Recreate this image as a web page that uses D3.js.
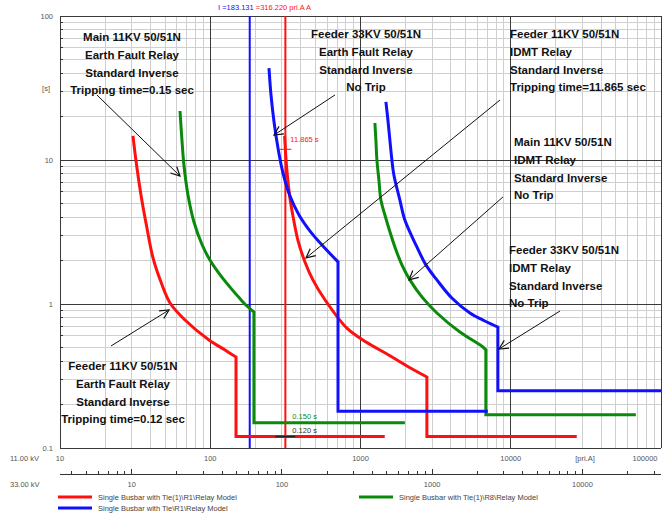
<!DOCTYPE html>
<html><head><meta charset="utf-8">
<script src="https://cdn.jsdelivr.net/npm/d3@7/dist/d3.min.js"></script>
<style>body{margin:0;background:#fff}svg{display:block}</style>
</head><body><svg id="c" width="667" height="518"></svg>
<script>
// ---- data ----
const xTicks11 = [10, 100, 1000, 10000, 100000];
const xTickLabels11 = ["10", "100", "1000", "10000", "100000"];
const xTicks33 = [10, 100, 1000, 10000];
const xTickLabels33 = ["10", "100", "1000", "10000"];
const yTicks = [0.1, 1, 10, 100];
const yTickLabels = ["0.1", "1", "10", "100"];
const legendNames = ["Single Busbar with Tie(1)\\R1\\Relay Model", "Single Busbar with Tie\\R1\\Relay Model", "Single Busbar with Tie(1)\\R8\\Relay Model"];

// Feeder 11KV EF (red, left)
const redLeftCurve = [[30.6,14.7],[32.0,10.0],[34.6,5.71],[37.9,3.37],[41.6,2.09],[47.0,1.42],[54.0,1.016],[67.9,0.774],[98.1,0.562],[125.4,0.479],[148.4,0.428]];
const redLeftStep = [[148.4,0.428],[148.4,0.12],[1450,0.12]];
// Main 11KV EF (green, left)
const greenLeftCurve = [[62.9,21.9],[64.8,13.8],[66.8,9.23],[71.1,5.71],[77.9,3.71],[88,2.6],[99.5,2.02],[116,1.6],[135.3,1.31],[157.6,1.09],[175.4,0.968],[195.3,0.88]];
const greenLeftStep = [[195.3,0.88],[195.3,0.15],[1975,0.15]];
// Feeder 33KV EF (blue, middle)
const blueMidCurve = [[246,43.5],[253.7,28.3],[265.7,18.4],[282.4,12.1],[304.9,8.12],[339.5,5.62],[389.6,4.15],[461.3,3.21],[554.3,2.57],[708.4,1.96]];
const blueMidStep = [[708.4,1.96],[708.4,0.18],[7040,0.18]];
// Feeder 11KV IDMT (red, middle)
const redMidCurve = [[312.6,14.7],[316.2,11.87],[322,9.0],[339,5.45],[352,4.3],[383,2.78],[427,1.96],[482,1.47],[580,1.07],[812,0.68],[1103,0.54],[1499,0.45],[2036,0.371],[2766,0.311]];
const redMidStep = [[2766,0.311],[2766,0.12],[27500,0.12]];
// Main 11KV IDMT (green, right)
const greenRightCurve = [[1247,18.07],[1266,13.76],[1286,10.0],[1326,7.26],[1367,5.27],[1453,4.15],[1694,2.49],[1886,1.87],[2132,1.47],[2562,1.12],[3224,0.866],[4585,0.639],[6523,0.503],[6829,0.479]];
const greenRightStep = [[6829,0.479],[6829,0.17],[68000,0.17]];
// Feeder 33KV IDMT (blue, right)
const blueRightCurve = [[1476,25.3],[1522,18.96],[1618,10.0],[1668,7.87],[1829,5.27],[1974,3.83],[2373,2.49],[2724,1.87],[3224,1.47],[4056,1.10],[5346,0.866],[6725,0.762],[8210,0.692]];
const blueRightStep = [[8210,0.692],[8210,0.25],[100000,0.25]];

const cursorBlue = 183.131;
const cursorRed = 316.22;
const markRedTime = 11.865;
const markGreenTime = 0.150;
const markRedLowTime = 0.120;

// annotation arrows: [start, tip] in (A, s)
const arrows = [
  [[17.6,28.3],[62.9,7.74]],
  [[676.6,28.3],[265.7,14.9]],
  [[8482,26.1],[434,2.09]],
  [[8880,5.54],[2103,1.47]],
  [[21280,0.894],[8352,0.487]],
  [[21.85,0.511],[53.2,0.909]]
];
const notes = [
  {x:132, y:37, anchor:"middle", lines:["Main 11KV 50/51N","Earth Fault Relay","Standard Inverse","Tripping time=0.15 sec"]},
  {x:366, y:34, anchor:"middle", lines:["Feeder 33KV 50/51N","Earth Fault Relay","Standard Inverse","No Trip"]},
  {x:510, y:34, anchor:"start", lines:["Feeder 11KV 50/51N","IDMT Relay","Standard Inverse","Tripping time=11.865 sec"]},
  {x:514, y:142, anchor:"start", lines:["Main 11KV 50/51N","IDMT Relay","Standard Inverse","No Trip"]},
  {x:509, y:250, anchor:"start", lines:["Feeder 33KV 50/51N","IDMT Relay","Standard Inverse","No Trip"]},
  {x:123, y:366, anchor:"middle", lines:["Feeder 11KV 50/51N","Earth Fault Relay","Standard Inverse","Tripping time=0.12 sec"]}
];

// ---- drawing ----
const svg = d3.select("#c");
const L = 60, R = 661, T = 16, B = 448;
const x = d3.scaleLog().domain([10, 100000]).range([L, R]);
const y = d3.scaleLog().domain([0.1, 100]).range([B, T]);
const x33 = d3.scaleLog().domain([10/3, 100000/3]).range([L, R]);

const RED = "#ff1010", BLUE = "#1010ff", GREEN = "#0a8a0a";
const gray = "#555";

svg.append("rect").attr("width",667).attr("height",518).attr("fill","#fff");

// grid
const g = svg.append("g");
const minorX = [], minorY = [];
[10,100,1000,10000].forEach(d => { for (let k=2;k<=9;k++) minorX.push(k*d); });
[0.1,1,10].forEach(d => { for (let k=2;k<=9;k++) minorY.push(k*d); });
g.selectAll(".mx").data(minorX).join("line")
  .attr("x1",d=>x(d)).attr("x2",d=>x(d)).attr("y1",T).attr("y2",B)
  .attr("stroke","#cfcfcf").attr("stroke-width",1).attr("shape-rendering","crispEdges");
g.selectAll(".my").data(minorY).join("line")
  .attr("y1",d=>y(d)).attr("y2",d=>y(d)).attr("x1",L).attr("x2",R)
  .attr("stroke","#cfcfcf").attr("stroke-width",1).attr("shape-rendering","crispEdges");
g.selectAll(".Mx").data(xTicks11).join("line")
  .attr("x1",d=>x(d)).attr("x2",d=>x(d)).attr("y1",T).attr("y2",B)
  .attr("stroke","#3a3a3a").attr("stroke-width",1).attr("shape-rendering","crispEdges");
g.selectAll(".My").data(yTicks).join("line")
  .attr("y1",d=>y(d)).attr("y2",d=>y(d)).attr("x1",L).attr("x2",R)
  .attr("stroke","#3a3a3a").attr("stroke-width",1).attr("shape-rendering","crispEdges");
g.selectAll(".ty").data(minorY).join("line")
  .attr("y1",d=>y(d)).attr("y2",d=>y(d)).attr("x1",L).attr("x2",L+3)
  .attr("stroke","#333").attr("shape-rendering","crispEdges");

// axis labels
const lab = svg.append("g").attr("font-family","Liberation Sans, Arial, sans-serif").attr("font-size",7.5).attr("fill",gray);
lab.selectAll(".yl").data(yTicks).join("text")
  .attr("x",L-7).attr("y",d=>y(d)).attr("dy","0.35em").attr("text-anchor","end").text((d,i)=>yTickLabels[i]);
lab.append("text").attr("x",L-10).attr("y",88).attr("dy","0.35em").attr("text-anchor","end").text("[s]");
lab.selectAll(".xl").data(xTicks11).join("text")
  .attr("x",d=>Math.min(x(d), 645)).attr("y",B+10).attr("dy","0.35em").attr("text-anchor","middle").text((d,i)=>xTickLabels11[i]);
lab.append("text").attr("x",585).attr("y",B+10).attr("dy","0.35em").attr("text-anchor","middle").text("[pri.A]");
lab.append("text").attr("x",10).attr("y",B+10).attr("dy","0.35em").text("11.00 kV");
lab.append("text").attr("x",10).attr("y",484).attr("dy","0.35em").text("33.00 kV");

// 33 kV axis
const ax33 = 474;
svg.append("line").attr("x1",L).attr("x2",R).attr("y1",ax33).attr("y2",ax33).attr("stroke","#333").attr("shape-rendering","crispEdges");
const t33 = [];
[1,10,100,1000,10000].forEach(d => { for (let k=1;k<=9;k++) { const v=k*d; if (x33(v)>=L && x33(v)<=R) t33.push(v); } });
svg.selectAll(".t33").data(t33).join("line")
  .attr("x1",d=>x33(d)).attr("x2",d=>x33(d)).attr("y1",ax33)
  .attr("y2",d=> xTicks33.includes(d) ? ax33-5 : ax33-3)
  .attr("stroke","#333").attr("shape-rendering","crispEdges");
lab.selectAll(".x3").data(xTicks33).join("text")
  .attr("x",d=>x33(d)).attr("y",484).attr("dy","0.35em").attr("text-anchor","middle").text((d,i)=>xTickLabels33[i]);

// clip
svg.append("clipPath").attr("id","pc").append("rect").attr("x",L).attr("y",T-1).attr("width",R-L+2).attr("height",B-T+2);
const plot = svg.append("g").attr("clip-path","url(#pc)");

// cursor lines
plot.append("line").attr("x1",x(cursorBlue)).attr("x2",x(cursorBlue)).attr("y1",T).attr("y2",B).attr("stroke",BLUE).attr("stroke-width",2);
plot.append("line").attr("x1",x(cursorRed)).attr("x2",x(cursorRed)).attr("y1",T).attr("y2",B).attr("stroke",RED).attr("stroke-width",2);

// curves
const curveGen = d3.line().x(d=>x(d[0])).y(d=>y(d[1])).curve(d3.curveCatmullRom.alpha(0.5));
const lineGen = d3.line().x(d=>x(d[0])).y(d=>y(d[1]));
function pathOf(curve, step) {
  return curveGen(curve) + lineGen(step).replace(/^M/, "L");
}
const series = [
  [redLeftCurve, redLeftStep, RED],
  [redMidCurve, redMidStep, RED],
  [greenLeftCurve, greenLeftStep, GREEN],
  [greenRightCurve, greenRightStep, GREEN],
  [blueMidCurve, blueMidStep, BLUE],
  [blueRightCurve, blueRightStep, BLUE]
];
plot.selectAll(".crv").data(series).join("path")
  .attr("d",d=>pathOf(d[0],d[1])).attr("fill","none").attr("stroke",d=>d[2])
  .attr("stroke-width",3).attr("stroke-linejoin","miter");

// markers
plot.append("line").attr("x1",x(cursorRed)-6).attr("x2",x(cursorRed)+6).attr("y1",y(markRedTime)).attr("y2",y(markRedTime)).attr("stroke",RED).attr("stroke-width",1);
plot.append("line").attr("x1",x(cursorRed)-10).attr("x2",x(cursorRed)+10).attr("y1",y(markRedLowTime)).attr("y2",y(markRedLowTime)).attr("stroke","#222").attr("stroke-width",1.5);
const sm = svg.append("g").attr("font-family","Liberation Sans, Arial, sans-serif").attr("font-size",7.5);
sm.append("text").attr("x",x(cursorRed)+5).attr("y",y(markRedTime)-7).attr("fill",RED).text("11.865 s");
sm.append("text").attr("x",x(cursorRed)+7).attr("y",y(markGreenTime)-4).attr("fill",GREEN).text("0.150 s");
sm.append("text").attr("x",x(cursorRed)+7).attr("y",y(markRedLowTime)-4).attr("fill","#333").text("0.120 s");
const cursorLabel = sm.append("text").attr("x",218).attr("y",10);
cursorLabel.append("tspan").attr("fill",BLUE).text("I =183.131");
cursorLabel.append("tspan").attr("fill",RED).text(" =316.220 pri.A A");

// arrows
const defs = svg.append("defs");
defs.append("marker").attr("id","ah").attr("viewBox","-10 -6 12 12").attr("refX",0).attr("refY",0)
  .attr("markerWidth",12).attr("markerHeight",12).attr("markerUnits","userSpaceOnUse").attr("orient","auto")
  .append("path").attr("d","M-9,-4.5 L0,0 L-9,4.5").attr("fill","none").attr("stroke","#111").attr("stroke-width",1.2);
svg.selectAll(".arr").data(arrows).join("line")
  .attr("x1",d=>x(d[0][0])).attr("y1",d=>y(d[0][1])).attr("x2",d=>x(d[1][0])).attr("y2",d=>y(d[1][1]))
  .attr("stroke","#111").attr("stroke-width",1).attr("marker-end","url(#ah)");

// notes
const ng = svg.append("g").attr("font-family","Liberation Sans, Arial, sans-serif").attr("font-size",11.5).attr("font-weight","bold").attr("fill","#111");
notes.forEach(n => {
  n.lines.forEach((t,i) => {
    ng.append("text").attr("x",n.x).attr("y",n.y + i*17.8).attr("dy","0.35em").attr("text-anchor",n.anchor).text(t);
  });
});

// legend
const lg = svg.append("g").attr("font-family","Liberation Sans, Arial, sans-serif").attr("font-size",7.5).attr("fill","#444");
const legendItems = [[58,497,RED],[58,508,BLUE],[359,497,GREEN]];
legendItems.forEach((it,i) => {
  lg.append("line").attr("x1",it[0]).attr("x2",it[0]+34).attr("y1",it[1]).attr("y2",it[1]).attr("stroke",it[2]).attr("stroke-width",3);
  lg.append("text").attr("x",it[0]+40).attr("y",it[1]).attr("dy","0.35em").text(legendNames[i]);
});
</script></body></html>
